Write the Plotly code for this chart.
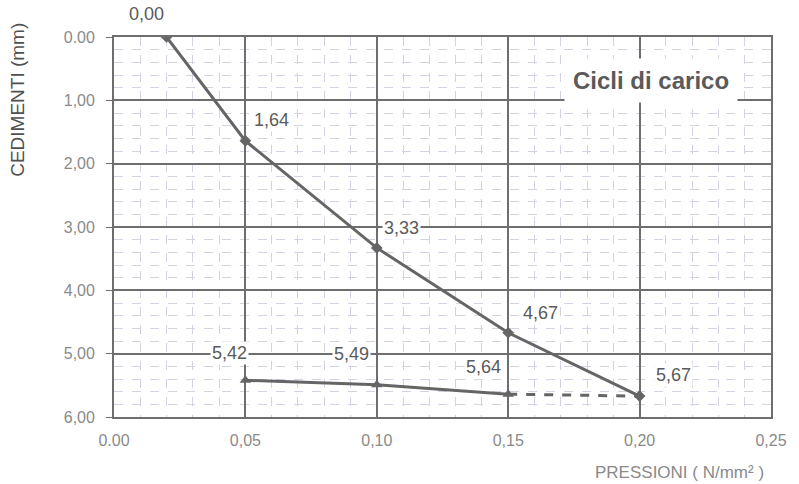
import plotly.graph_objects as go

# Data
load_x = [0.02, 0.05, 0.10, 0.15, 0.20]
load_y = [0.00, 1.64, 3.33, 4.67, 5.67]
unload_x = [0.05, 0.10, 0.15]
unload_y = [5.42, 5.49, 5.64]
dash_x = [0.15, 0.20]
dash_y = [5.64, 5.67]

x_ticks = [0.00, 0.05, 0.10, 0.15, 0.20, 0.25]
x_ticktext = ["0.00", "0,05", "0,10", "0,15", "0,20", "0,25"]
y_ticks = [0, 1, 2, 3, 4, 5, 6]
y_ticktext = ["0.00", "1,00", "2,00", "3,00", "4,00", "5,00", "6,00"]

load_labels = ["0,00", "1,64", "3,33", "4,67", "5,67"]
unload_labels = ["5,42", "5,49", "5,64"]

FONT = "Liberation Sans"
line_col = "#656565"
fig = go.Figure()
fig.add_trace(go.Scatter(x=load_x, y=load_y, mode="lines+markers",
                         line=dict(color=line_col, width=3),
                         marker=dict(symbol="diamond", size=9, color=line_col)))
fig.add_trace(go.Scatter(x=unload_x, y=unload_y, mode="lines+markers",
                         line=dict(color=line_col, width=3),
                         marker=dict(symbol="triangle-up", size=10, color=line_col)))
fig.add_trace(go.Scatter(x=dash_x, y=dash_y, mode="lines",
                         line=dict(color=line_col, width=3, dash="dash")))

label_font = dict(family=FONT, size=18, color="#5a5a5a")
load_shifts = [(-20, 23), (26, 21), (25, 20), (32, 20), (34, 21)]
for x, y, t, (dx, dy) in zip(load_x, load_y, load_labels, load_shifts):
    fig.add_annotation(x=x, y=y, text=t, showarrow=False, xshift=dx, yshift=dy,
                       font=label_font, bgcolor="white")
unload_shifts = [(-16, 27), (-25, 31), (-25, 27)]
for x, y, t, (dx, dy) in zip(unload_x, unload_y, unload_labels, unload_shifts):
    fig.add_annotation(x=x, y=y, text=t, showarrow=False, xshift=dx, yshift=dy,
                       font=label_font, bgcolor="white")

fig.add_annotation(x=0.2045, y=0.68, text="<b>Cicli di carico</b>", showarrow=False,
                   font=dict(family=FONT, size=24, color="#5a5a5a"),
                   bgcolor="white", borderpad=8)

grid_major = "#6e6e6e"
grid_minor = "#d2d2e2"
tick_font = dict(family=FONT, size=16, color="#8a8a8a")
fig.update_xaxes(range=[0, 0.25], tickvals=x_ticks, ticktext=x_ticktext,
                 showgrid=True, gridcolor=grid_major, gridwidth=1.8,
                 showline=True, linecolor=grid_major, linewidth=1.8, mirror=True,
                 zeroline=False,
                 minor=dict(dtick=0.01, showgrid=True, gridcolor=grid_minor,
                            griddash="dash", gridwidth=1),
                 tickfont=tick_font, ticks="outside", ticklen=8, tickcolor="white")
fig.update_yaxes(range=[6, 0], tickvals=y_ticks, ticktext=y_ticktext,
                 showgrid=True, gridcolor=grid_major, gridwidth=1.8,
                 showline=True, linecolor=grid_major, linewidth=1.8, mirror=True,
                 zeroline=False,
                 minor=dict(dtick=0.2, showgrid=True, gridcolor=grid_minor,
                            griddash="dash", gridwidth=1),
                 tickfont=tick_font, ticks="outside", ticklen=6, tickcolor=grid_major,
                 ticklabelstandoff=8)

fig.add_annotation(x=-0.148, xref="paper", y=0.834, yref="paper", text="CEDIMENTI (mm)",
                   showarrow=False, textangle=-90, xanchor="center", yanchor="middle",
                   font=dict(family=FONT, size=19, color="#505050"))
fig.add_annotation(x=0.992, xref="paper", y=-0.115, yref="paper",
                   text="PRESSIONI ( N/mm² )", showarrow=False,
                   xanchor="right", yanchor="top",
                   font=dict(family=FONT, size=17, color="#8a8a8a"))

fig.update_layout(width=799, height=484, showlegend=False,
                  margin=dict(l=114, r=18, t=37, b=67),
                  paper_bgcolor="white", plot_bgcolor="white")
fig.write_html("out.html")
